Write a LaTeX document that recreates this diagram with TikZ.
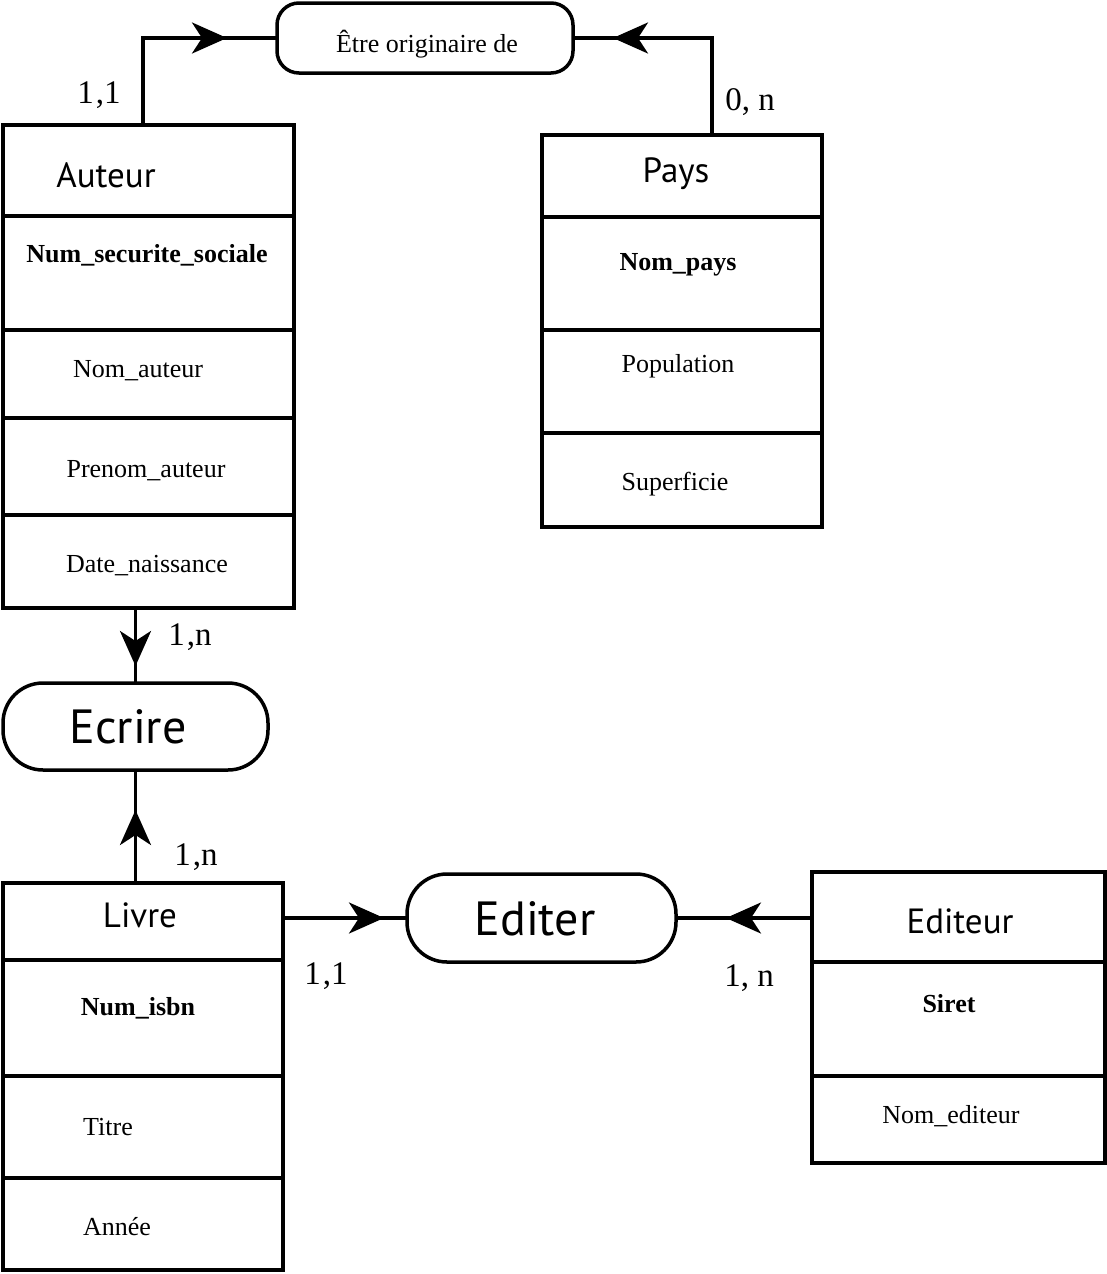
\documentclass[tikz,border=0pt]{standalone}
\usepackage{fontspec}
\setmainfont{Liberation Serif}
\newfontfamily\titlefont{PT Sans}
\usetikzlibrary{arrows.meta,decorations.markings}
\tikzset{
  box/.style={draw, line width=3.8pt, inner sep=0pt, outer sep=0pt, anchor=north west},
  divider/.style={line width=3.5pt},
  rel/.style={draw, line width=3.5pt, inner sep=0pt, outer sep=0pt},
  conn/.style={line width=3.5pt},
  arrowat/.style={postaction={decorate}, decoration={markings, mark=at position #1 with {\arrow{Stealth[length=35pt,width=31pt,inset=10pt]}}}},
  ttl/.style={anchor=base, inner sep=0pt, font=\titlefont\fontsize{35}{40}\selectfont},
  reltxt/.style={anchor=base, inner sep=0pt, font=\titlefont\fontsize{48}{54}\selectfont},
  attr/.style={anchor=base, inner sep=0pt, font=\fontsize{26}{30}\selectfont},
  key/.style={anchor=base, inner sep=0pt, font=\bfseries\fontsize{26}{30}\selectfont},
  card/.style={anchor=base, inner sep=0pt, font=\fontsize{33}{38}\selectfont},
  smallrel/.style={anchor=base, inner sep=0pt, font=\fontsize{26}{30}\selectfont}
}
\begin{document}
\begin{tikzpicture}[x=1pt,y=-1pt]
\useasboundingbox (0,0) rectangle (1107,1274);

% Entity boxes
\node[box, minimum width=291pt, minimum height=483pt] (auteur) at (3,125) {};
\draw[divider] (auteur.west |- 0,216) -- (auteur.east |- 0,216);
\draw[divider] (auteur.west |- 0,330) -- (auteur.east |- 0,330);
\draw[divider] (auteur.west |- 0,418) -- (auteur.east |- 0,418);
\draw[divider] (auteur.west |- 0,515) -- (auteur.east |- 0,515);

\node[box, minimum width=280pt, minimum height=392pt] (pays) at (542,135) {};
\draw[divider] (pays.west |- 0,217) -- (pays.east |- 0,217);
\draw[divider] (pays.west |- 0,330) -- (pays.east |- 0,330);
\draw[divider] (pays.west |- 0,433) -- (pays.east |- 0,433);

\node[box, minimum width=280pt, minimum height=387pt] (livre) at (3,883) {};
\draw[divider] (livre.west |- 0,960) -- (livre.east |- 0,960);
\draw[divider] (livre.west |- 0,1076) -- (livre.east |- 0,1076);
\draw[divider] (livre.west |- 0,1178) -- (livre.east |- 0,1178);

\node[box, minimum width=293pt, minimum height=291pt] (editeur) at (812,872) {};
\draw[divider] (editeur.west |- 0,962) -- (editeur.east |- 0,962);
\draw[divider] (editeur.west |- 0,1076) -- (editeur.east |- 0,1076);

% Relationships
\node[rel, minimum width=296pt, minimum height=70pt, rounded corners=22pt] (etre) at (425,38) {};
\node[rel, minimum width=265pt, minimum height=87pt, rounded corners=40pt] (ecrire) at (135.5,726.5) {};
\node[rel, minimum width=269pt, minimum height=88pt, rounded corners=40pt] (editer) at (541.5,918) {};

% Texts
\node[smallrel] (tEtre) at (427,52) {Être originaire de};
\node[ttl] (tAuteur) at (106,187) {Auteur};
\node[key] (tNss) at (147,262) {Num\_securite\_sociale};
\node[attr] (tNomA) at (138,377) {Nom\_auteur};
\node[attr] (tPrenom) at (146,477) {Prenom\_auteur};
\node[attr] (tDate) at (147,572) {Date\_naissance};

\node[ttl] (tPays) at (676,182) {Pays};
\node[key] (tNomP) at (678,270) {Nom\_pays};
\node[attr] (tPop) at (678,372) {Population};
\node[attr] (tSup) at (675,490) {Superficie};

\node[reltxt] (tEcrire) at (128,743) {Ecrire};
\node[reltxt] (tEditer) at (535,935) {Editer};

\node[ttl] (tLivre) at (140,927) {Livre};
\node[key] (tIsbn) at (138,1015) {Num\_isbn};
\node[attr] (tTitre) at (108,1135) {Titre};
\node[attr] (tAnnee) at (117,1235) {Année};

\node[ttl] (tEditeur) at (960,933) {Editeur};
\node[key] (tSiret) at (949,1012) {Siret};
\node[attr] (tNomE) at (951,1123) {Nom\_editeur};

% Cardinalities
\node[card] (c1) at (99,103) {1\kern2pt,1};
\node[card] (c2) at (750,110) {0, n};
\node[card] (c3) at (190,645) {1\kern2pt,n};
\node[card] (c4) at (196,865) {1\kern2pt,n};
\node[card] (c5) at (326,984) {1\kern2pt,1};
\node[card] (c6) at (749,986) {1, n};

% Connectors
\draw[conn, arrowat=-50pt] (auteur.north -| 143,0) |- (etre.west);
\draw[conn, arrowat=-40pt] (pays.north -| 712,0) |- (etre.east);
\draw[conn, arrowat=-17pt] (auteur.south -| ecrire.north) -- (ecrire.north);
\draw[conn, arrowat=-40pt] (livre.north -| ecrire.south) -- (ecrire.south);
\draw[conn, arrowat=-23pt] (editer.west -| livre.east) -- (editer.west);
\draw[conn, arrowat=-50pt] (editer.east -| editeur.west) -- (editer.east);
\end{tikzpicture}
\end{document}
